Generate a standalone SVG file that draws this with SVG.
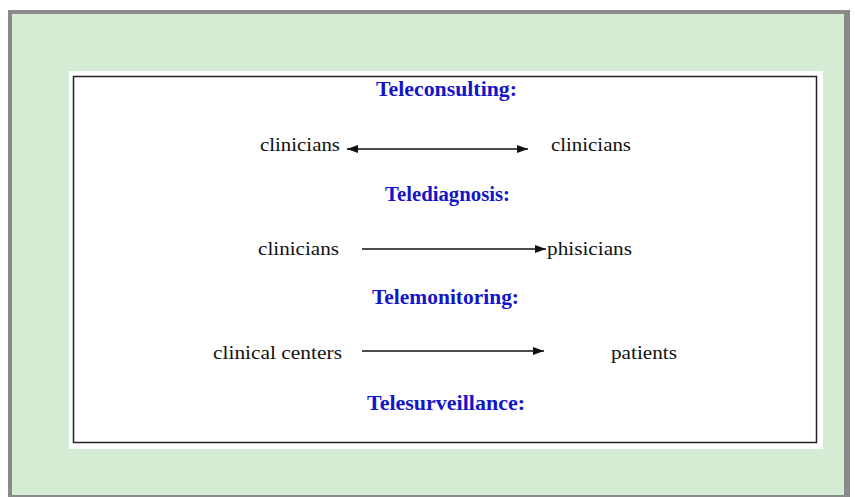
<svg xmlns="http://www.w3.org/2000/svg" width="855" height="497" viewBox="0 0 855 497">
<defs>
<style>
.h{font-family:"Liberation Serif","DejaVu Serif","Times New Roman",serif;font-weight:bold;font-size:20px;fill:#1515c8;}
.t{font-family:"Liberation Serif","DejaVu Serif","Times New Roman",serif;font-size:19px;fill:#111;}
.c{stroke:#111;stroke-width:1.6;fill:none;}
</style>
<marker id="ah" viewBox="0 0 11 8" refX="11" refY="4" markerWidth="11" markerHeight="8" markerUnits="userSpaceOnUse" orient="auto-start-reverse">
<path d="M0,0 L11,4 L0,8 Z" fill="#111"/>
</marker>
</defs>
<rect x="0" y="0" width="855" height="497" fill="#ffffff"/>
<rect x="8" y="10" width="842" height="487" fill="#8a8a8a"/>
<rect x="12" y="14" width="832" height="481" fill="#d5ebd3"/>
<rect x="69" y="71" width="754" height="378" fill="#ffffff"/>
<rect x="73.5" y="76.5" width="743" height="366" fill="#ffffff" stroke="#222" stroke-width="1.5"/>
<g id="h1"><text class="h" x="376" y="96" textLength="141" lengthAdjust="spacingAndGlyphs">Teleconsulting:</text></g>
<g id="n1a"><text class="t" x="260" y="151" textLength="80" lengthAdjust="spacingAndGlyphs">clinicians</text></g>
<g id="n1b"><text class="t" x="551" y="151" textLength="80" lengthAdjust="spacingAndGlyphs">clinicians</text></g>
<g id="h2"><text class="h" x="385" y="201" textLength="125" lengthAdjust="spacingAndGlyphs">Telediagnosis:</text></g>
<g id="n2a"><text class="t" x="258" y="255" textLength="81" lengthAdjust="spacingAndGlyphs">clinicians</text></g>
<g id="n2b"><text class="t" x="547" y="255" textLength="85" lengthAdjust="spacingAndGlyphs">phisicians</text></g>
<g id="h3"><text class="h" x="372" y="304" textLength="147" lengthAdjust="spacingAndGlyphs">Telemonitoring:</text></g>
<g id="n3a"><text class="t" x="213" y="359" textLength="129" lengthAdjust="spacingAndGlyphs">clinical centers</text></g>
<g id="n3b"><text class="t" x="611" y="359" textLength="66" lengthAdjust="spacingAndGlyphs">patients</text></g>
<g id="h4"><text class="h" x="367" y="410" textLength="158" lengthAdjust="spacingAndGlyphs">Telesurveillance:</text></g>
<g id="connectors">
<line class="c" x1="347" y1="149" x2="528" y2="149" marker-start="url(#ah)" marker-end="url(#ah)"/>
<line class="c" x1="362" y1="249" x2="546" y2="249" marker-end="url(#ah)"/>
<line class="c" x1="362" y1="351" x2="544" y2="351" marker-end="url(#ah)"/>
</g>
</svg>
